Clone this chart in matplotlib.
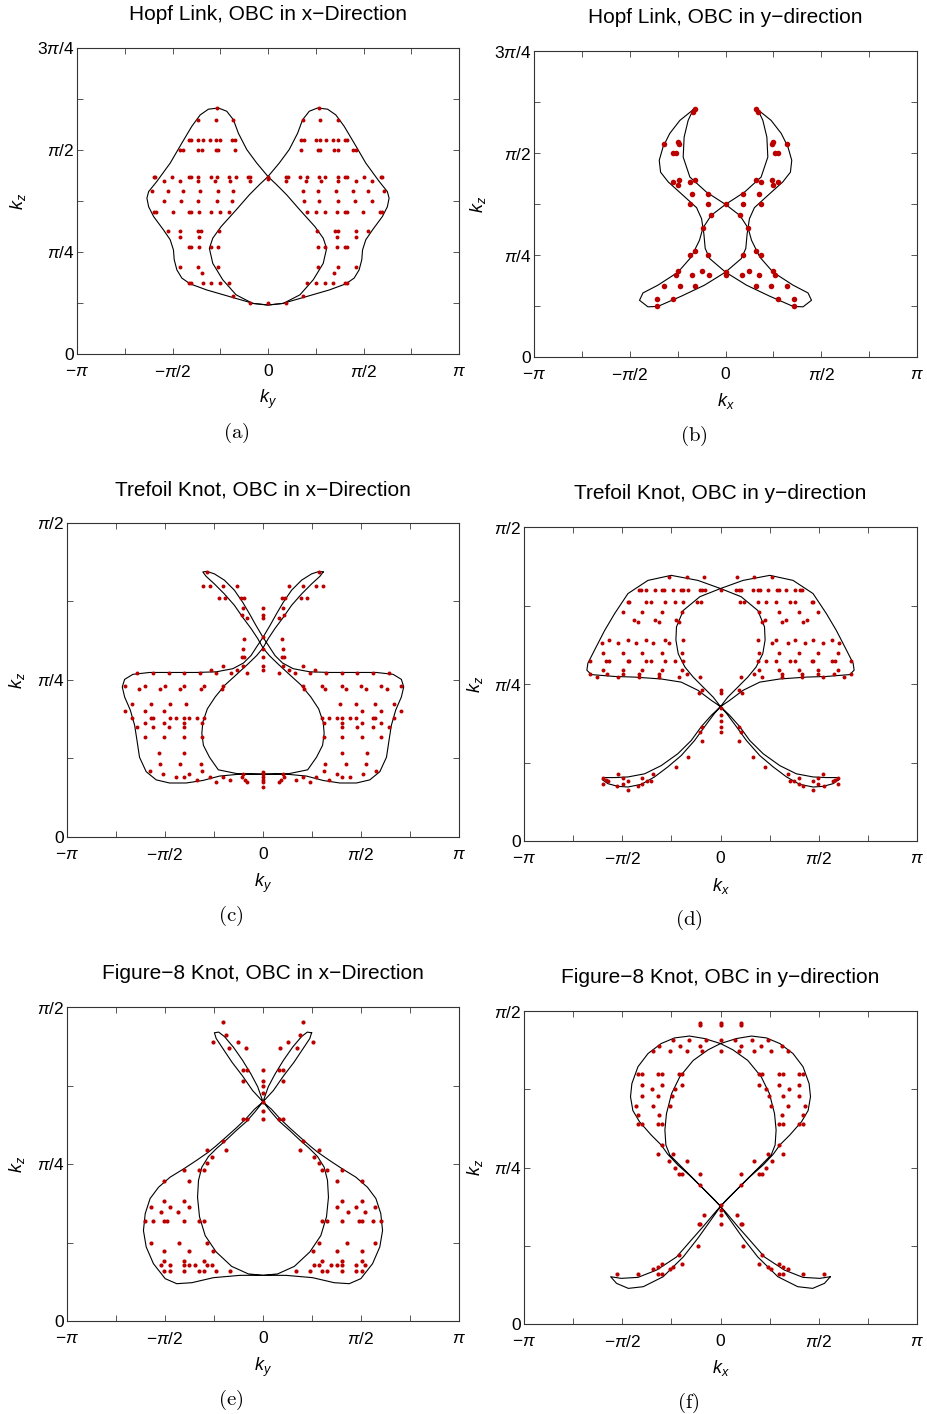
import numpy as np
import matplotlib.pyplot as plt

plt.rcParams['font.family'] = ['Liberation Sans', 'DejaVu Sans']
plt.rcParams['mathtext.fontset'] = 'custom'
plt.rcParams['mathtext.rm'] = 'Liberation Sans'
plt.rcParams['mathtext.it'] = 'Liberation Sans:italic'

# all coordinates below are in units of pi

# --- (a) Hopf link, OBC in x: one component, the other one is its mirror image
a_curve_x = [0, -0.059, -0.111, -0.155, -0.181, -0.216, -0.260, -0.312, -0.355, -0.399, -0.451, -0.512,
             -0.582, -0.625, -0.634, -0.625, -0.599, -0.547, -0.512, -0.495, -0.491, -0.477, -0.451, -0.408,
             -0.321, -0.181, -0.077, 0, 0.080, 0.167, 0.237, 0.289, 0.307, 0.289, 0.246, 0.167, 0.098, 0.045, 0]
a_curve_y = [0.435, 0.468, 0.501, 0.541, 0.574, 0.595, 0.603, 0.600, 0.586, 0.558, 0.517, 0.468,
             0.423, 0.398, 0.382, 0.361, 0.337, 0.304, 0.280, 0.255, 0.231, 0.206, 0.186, 0.172,
             0.157, 0.138, 0.124, 0.120, 0.124, 0.145, 0.182, 0.222, 0.259, 0.284, 0.312, 0.353, 0.390, 0.415, 0.435]
a_rows = [
    (0.603, [-0.265]),
    (0.573, [-0.364, -0.272, -0.185]),
    (0.525, [-0.416, -0.402, -0.364, -0.341, -0.303, -0.272, -0.251, -0.190, -0.172]),
    (0.500, [-0.460, -0.443, -0.364, -0.347, -0.272, -0.260, -0.172]),
    (0.435, [-0.599, -0.591, -0.503, -0.416, -0.402, -0.364, -0.300, -0.268, -0.202, -0.167, -0.103, -0.094]),
    (0.423, [-0.547, -0.460, -0.364, -0.277, -0.199, -0.094]),
    (0.400, [-0.608, -0.524, -0.446, -0.355, -0.260, -0.181]),
    (0.375, [-0.547, -0.455, -0.364, -0.268, -0.186]),
    (0.348, [-0.599, -0.587, -0.498, -0.416, -0.402, -0.359, -0.300, -0.251, -0.202]),
    (0.302, [-0.524, -0.460, -0.364, -0.350, -0.254]),
    (0.286, [-0.460, -0.361]),
    (0.262, [-0.416, -0.402, -0.359, -0.298, -0.260]),
    (0.213, [-0.460, -0.364, -0.260]),
    (0.198, [-0.347]),
    (0.173, [-0.416, -0.402, -0.338, -0.298, -0.251, -0.202]),
    (0.143, [-0.185]),
    (0.125, [-0.094]),
]
a_mid = [0.435, 0.430, 0.125]

# --- (b) Hopf link, OBC in y
b_curve_x = [-0.169, -0.238, -0.291, -0.326, -0.346, -0.339, -0.299, -0.221, -0.151, -0.125, -0.113, -0.106,
             -0.082, 0, 0.110, 0.231, 0.353, 0.405, 0.449, 0.431, 0.353, 0.248, 0.179, 0.136, 0.118, 0.075,
             0, -0.099, -0.186, -0.221, -0.216, -0.195, -0.169]
b_curve_y = [0.606, 0.580, 0.548, 0.515, 0.482, 0.453, 0.429, 0.396, 0.366, 0.339, 0.302, 0.266,
             0.241, 0.208, 0.176, 0.149, 0.124, 0.123, 0.139, 0.157, 0.176, 0.208, 0.245, 0.286, 0.316, 0.347,
             0.374, 0.404, 0.441, 0.490, 0.539, 0.580, 0.606]
b_dot_x = [-0.160, -0.172, -0.320, -0.250, -0.242, -0.273, -0.259, -0.273, -0.242, -0.250, -0.186, -0.160,
           -0.174, -0.090, -0.183, -0.090, -0.078, -0.120, -0.160, -0.183, -0.090, -0.250, -0.261, -0.174,
           -0.125, -0.085, -0.320, -0.238, -0.160, -0.360, -0.273, -0.360]
b_dot_y = [0.609, 0.601, 0.521, 0.527, 0.523, 0.500, 0.500, 0.429, 0.435, 0.422, 0.429, 0.435,
           0.400, 0.400, 0.376, 0.376, 0.349, 0.315, 0.261, 0.251, 0.249, 0.211, 0.200, 0.200,
           0.211, 0.200, 0.174, 0.174, 0.174, 0.143, 0.143, 0.126]
b_mid = [0.376, 0.208, 0.200]

# --- (c) trefoil, OBC in x: half of the closed path, the rest is its mirror
c_curve_x = [0.307, 0.290, 0.248, 0.197, 0.146, 0.104, 0.061, 0.027, 0, -0.032, -0.075, -0.134, -0.194,
             -0.244, -0.284, -0.307, -0.312, -0.304, -0.273, -0.228, -0.134, 0, 0.121, 0.222, 0.307, 0.392,
             0.477, 0.545, 0.596, 0.630, 0.643, 0.655, 0.677, 0.706, 0.718, 0.706, 0.664, 0.579, 0.460,
             0.341, 0.239, 0.154, 0.100, 0.061, 0.032, 0, -0.036, -0.070, -0.104, -0.146, -0.197, -0.248, -0.287]
c_curve_y = [0.422, 0.415, 0.403, 0.387, 0.369, 0.350, 0.332, 0.316, 0.301, 0.289, 0.276, 0.259, 0.242,
             0.223, 0.204, 0.183, 0.165, 0.146, 0.127, 0.107, 0.101, 0.100, 0.100, 0.097, 0.090, 0.086,
             0.086, 0.091, 0.104, 0.127, 0.154, 0.178, 0.202, 0.223, 0.239, 0.251, 0.259, 0.262, 0.262,
             0.262, 0.263, 0.268, 0.277, 0.289, 0.303, 0.318, 0.337, 0.356, 0.374, 0.393, 0.409, 0.419, 0.423]
c_rows = [
    (0.422, [-0.287]),
    (0.400, [-0.304, -0.270, -0.202, -0.134]),
    (0.381, [-0.222, -0.194, -0.114, -0.097]),
    (0.364, [-0.100]),
    (0.353, [-0.109]),
    (0.348, [-0.083]),
    (0.316, [-0.097]),
    (0.300, [-0.104]),
    (0.286, [-0.109, -0.097]),
    (0.273, [-0.100]),
    (0.272, [-0.202]),
    (0.266, [-0.267, -0.134]),
    (0.261, [-0.643, -0.559, -0.482, -0.401, -0.321, -0.241, -0.163, -0.080]),
    (0.240, [-0.703, -0.601, -0.499, -0.401, -0.301, -0.202]),
    (0.235, [-0.635, -0.525, -0.423, -0.316, -0.211]),
    (0.211, [-0.669, -0.572, -0.474, -0.394]),
    (0.201, [-0.703, -0.601, -0.504]),
    (0.190, [-0.666, -0.572, -0.559, -0.474, -0.445, -0.401, -0.380, -0.338, -0.301]),
    (0.182, [-0.601, -0.504, -0.401, -0.312]),
    (0.175, [-0.643, -0.562, -0.482, -0.401]),
    (0.160, [-0.601, -0.504, -0.401, -0.312]),
    (0.134, [-0.533, -0.401]),
    (0.117, [-0.525, -0.423, -0.316]),
    (0.105, [-0.576, -0.312]),
    (0.0998, [-0.508, -0.380, -0.104]),
    (0.0955, [-0.443, -0.401, -0.270, -0.202, -0.109]),
    (0.090, [-0.338, -0.168, -0.092]),
    (0.087, [-0.239, -0.083]),
]
c_mid = [0.364, 0.353, 0.348, 0.318, 0.300, 0.286, 0.273, 0.266, 0.1035, 0.0998, 0.0955, 0.091, 0.087, 0.080]

# --- (d) trefoil, OBC in y
d_curve_x = [0.602, 0.573, 0.522, 0.471, 0.403, 0.336, 0.268, 0.200, 0.132, 0.081, 0.031, 0, -0.037, -0.088,
             -0.139, -0.181, -0.215, -0.227, -0.224, -0.190, -0.105, 0, 0.115, 0.251, 0.369, 0.471, 0.539,
             0.590, 0.641, 0.675, 0.680, 0.658, 0.539, 0.437, 0.302, 0.200, 0.115, 0.047, 0, -0.047, -0.098,
             -0.149, -0.217, -0.302, -0.386, -0.471, -0.539, -0.590]
d_curve_y = [0.0977, 0.0913, 0.0870, 0.0860, 0.0902, 0.102, 0.118, 0.136, 0.160, 0.182, 0.203, 0.214, 0.229,
             0.245, 0.261, 0.277, 0.298, 0.320, 0.341, 0.367, 0.389, 0.402, 0.415, 0.423, 0.415, 0.394, 0.362,
             0.335, 0.304, 0.283, 0.272, 0.265, 0.262, 0.261, 0.258, 0.253, 0.240, 0.224, 0.214, 0.200, 0.182,
             0.160, 0.139, 0.120, 0.107, 0.102, 0.101, 0.101]
d_rows = [
    (0.421, [-0.261, -0.173, -0.085]),
    (0.400, [-0.415, -0.405, -0.381, -0.334, -0.297, -0.286, -0.244, -0.202, -0.190, -0.164, -0.102, -0.092, -0.080]),
    (0.381, [-0.473, -0.466, -0.380, -0.354, -0.283, -0.232, -0.190, -0.119, -0.097]),
    (0.364, [-0.498, -0.398, -0.297, -0.198]),
    (0.352, [-0.441, -0.331, -0.224]),
    (0.348, [-0.419, -0.314, -0.212]),
    (0.320, [-0.568, -0.473, -0.380, -0.283, -0.190]),
    (0.316, [-0.605, -0.520, -0.432, -0.346, -0.261]),
    (0.300, [-0.597, -0.498, -0.398, -0.297, -0.198]),
    (0.286, [-0.664, -0.585, -0.568, -0.473, -0.466, -0.380, -0.354, -0.283, -0.232, -0.190]),
    (0.273, [-0.597, -0.498, -0.398, -0.297, -0.198]),
    (0.266, [-0.664, -0.580, -0.498, -0.415, -0.314, -0.168]),
    (0.261, [-0.631, -0.524, -0.415, -0.314, -0.212, -0.102]),
    (0.240, [-0.093]),
    (0.236, [-0.110]),
    (0.182, [-0.093]),
    (0.174, [-0.102]),
    (0.160, [-0.093]),
    (0.134, [-0.164]),
    (0.118, [-0.224]),
    (0.106, [-0.520, -0.346]),
    (0.100, [-0.600, -0.498, -0.398]),
    (0.0966, [-0.583]),
    (0.0955, [-0.571, -0.473, -0.376, -0.354]),
    (0.0913, [-0.600, -0.498, -0.398]),
    (0.0870, [-0.525, -0.419]),
    (0.0817, [-0.473]),
]
d_mid = [0.400, 0.241, 0.236, 0.211, 0.200, 0.191, 0.182, 0.174]

# --- (e) figure-8, OBC in x
e_curve_x = [0.248, 0.239, 0.205, 0.158, 0.104, 0.053, 0, -0.041, -0.083, -0.134, -0.185, -0.236, -0.278,
             -0.312, -0.329, -0.334, -0.324, -0.295, -0.239, -0.160, -0.075, 0, 0.117, 0.253, 0.363, 0.440,
             0.499, 0.559, 0.596, 0.610, 0.601, 0.576, 0.533, 0.474, 0.401, 0.338, 0.278, 0.239, 0.188,
             0.138, 0.087, 0.044, 0, -0.027, -0.061, -0.104, -0.151, -0.197, -0.226]
e_curve_y = [0.459, 0.450, 0.434, 0.412, 0.390, 0.367, 0.349, 0.333, 0.318, 0.304, 0.289, 0.275, 0.262,
             0.245, 0.224, 0.197, 0.166, 0.136, 0.110, 0.087, 0.075, 0.0727, 0.0727, 0.069, 0.061, 0.0594,
             0.0674, 0.0913, 0.118, 0.144, 0.171, 0.195, 0.213, 0.229, 0.243, 0.256, 0.269, 0.279, 0.293,
             0.307, 0.322, 0.337, 0.349, 0.373, 0.393, 0.415, 0.436, 0.453, 0.460]
e_rows = [
    (0.476, [-0.202]),
    (0.455, [-0.190]),
    (0.444, [-0.253, -0.126]),
    (0.435, [-0.173, -0.088]),
    (0.400, [-0.100, -0.080]),
    (0.382, [-0.100]),
    (0.321, [-0.100, -0.080]),
    (0.287, [-0.202]),
    (0.273, [-0.287, -0.188]),
    (0.261, [-0.261]),
    (0.251, [-0.287]),
    (0.240, [-0.401, -0.324, -0.301]),
    (0.223, [-0.503, -0.377]),
    (0.191, [-0.503, -0.401]),
    (0.182, [-0.572, -0.474, -0.380]),
    (0.174, [-0.521, -0.436]),
    (0.160, [-0.601, -0.562, -0.503, -0.491, -0.401, -0.324, -0.301]),
    (0.125, [-0.572, -0.428, -0.287]),
    (0.111, [-0.503, -0.377, -0.253]),
    (0.0955, [-0.503, -0.401, -0.301]),
    (0.0886, [-0.521, -0.474, -0.401, -0.377, -0.346, -0.287, -0.261]),
    (0.0796, [-0.503, -0.477, -0.401, -0.324, -0.301, -0.239, -0.168]),
]
e_mid = [0.400, 0.382, 0.375, 0.363, 0.349, 0.334, 0.321]

# --- (f) figure-8, OBC in y
f_curve_x = [0.559, 0.529, 0.469, 0.393, 0.292, 0.190, 0.115, 0.056, 0.022, 0, -0.029, -0.071, -0.131,
             -0.198, -0.258, -0.278, -0.283, -0.275, -0.249, -0.207, -0.139, -0.063, 0, 0.081, 0.158, 0.234,
             0.302, 0.369, 0.420, 0.451, 0.458, 0.446, 0.412, 0.353, 0.302, 0.268, 0.217, 0.149, 0.081,
             0.031, 0, -0.031, -0.090, -0.149, -0.224, -0.325, -0.420, -0.505]
f_curve_y = [0.0755, 0.0649, 0.0569, 0.0596, 0.0755, 0.107, 0.137, 0.163, 0.178, 0.188, 0.198, 0.211, 0.230,
             0.251, 0.270, 0.286, 0.310, 0.336, 0.368, 0.395, 0.421, 0.438, 0.448, 0.456, 0.460, 0.457,
             0.448, 0.432, 0.411, 0.384, 0.363, 0.341, 0.323, 0.302, 0.286, 0.271, 0.254, 0.235, 0.214,
             0.198, 0.188, 0.177, 0.155, 0.134, 0.107, 0.0862, 0.0745, 0.0729]
f_rows = [
    (0.481, [-0.105]),
    (0.477, [-0.102]),
    (0.454, [-0.241, -0.159, -0.076]),
    (0.444, [-0.312, -0.207, -0.105]),
    (0.436, [-0.346, -0.258, -0.173, -0.092]),
    (0.400, [-0.419, -0.402, -0.317, -0.300, -0.210, -0.198]),
    (0.381, [-0.397, -0.300, -0.198]),
    (0.375, [-0.351, -0.232]),
    (0.364, [-0.397, -0.317, -0.246]),
    (0.348, [-0.432, -0.346, -0.258]),
    (0.334, [-0.419, -0.314]),
    (0.320, [-0.419, -0.402, -0.317, -0.300]),
    (0.286, [-0.300]),
    (0.272, [-0.317, -0.241]),
    (0.261, [-0.261, -0.173]),
    (0.250, [-0.232]),
    (0.240, [-0.210, -0.198, -0.102]),
    (0.222, [-0.105]),
    (0.174, [-0.085]),
    (0.160, [-0.102, -0.108]),
    (0.124, [-0.117]),
    (0.110, [-0.210]),
    (0.0952, [-0.300, -0.198]),
    (0.0904, [-0.317, -0.241]),
    (0.0872, [-0.346, -0.258]),
    (0.0798, [-0.300, -0.317, -0.419, -0.525]),
]
f_mid = [0.481, 0.477, 0.454, 0.436, 0.190, 0.182, 0.174, 0.160]

titles = ['Hopf Link, OBC in x\u2212Direction', 'Hopf Link, OBC in y\u2212direction',
          'Trefoil Knot, OBC in x\u2212Direction', 'Trefoil Knot, OBC in y\u2212direction',
          'Figure\u22128 Knot, OBC in x\u2212Direction', 'Figure\u22128 Knot, OBC in y\u2212direction']
xlabels = [r'$k_y$', r'$k_x$'] * 3
tags = ['(a)', '(b)', '(c)', '(d)', '(e)', '(f)']

# axes boxes in pixels: left, top, right, bottom
boxes = [(77, 48, 459, 354), (534, 51, 917, 357),
         (67, 523, 459, 837), (524, 527, 917, 841),
         (67, 1007, 459, 1321), (524, 1011, 917, 1324)]
# where the right edge of the k_z label sits, in pixels left of the axes
ylab_gap = [49, 46, 40, 39, 40, 39]

W, H = 927, 1414


def dots_from_rows(rows, mid):
    xs, ys = [], []
    for y, row in rows:
        for x in row:
            xs += [x, -x]
            ys += [y, y]
    xs += [0] * len(mid)
    ys += list(mid)
    return np.pi * np.array(xs), np.pi * np.array(ys)


def knot(px, py):
    px, py = np.array(px), np.array(py)
    return np.pi * np.r_[px, -px, px[:1]], np.pi * np.r_[py, py, py[:1]]


fig = plt.figure(figsize=(W / 100, H / 100), dpi=100)

bx, by = np.array(b_dot_x), np.array(b_dot_y)
curves = [
    [(np.pi * np.array(a_curve_x), np.pi * np.array(a_curve_y)),
     (-np.pi * np.array(a_curve_x), np.pi * np.array(a_curve_y))],
    [(np.pi * np.array(b_curve_x), np.pi * np.array(b_curve_y)),
     (-np.pi * np.array(b_curve_x), np.pi * np.array(b_curve_y))],
    [knot(c_curve_x, c_curve_y)],
    [knot(d_curve_x, d_curve_y)],
    [knot(e_curve_x, e_curve_y)],
    [knot(f_curve_x, f_curve_y)],
]
dots = [
    dots_from_rows(a_rows, a_mid),
    (np.pi * np.r_[bx, -bx, np.zeros(len(b_mid))], np.pi * np.r_[by, by, b_mid]),
    dots_from_rows(c_rows, c_mid),
    dots_from_rows(d_rows, d_mid),
    dots_from_rows(e_rows, e_mid),
    dots_from_rows(f_rows, f_mid),
]
dot_size = [8, 16, 8, 8, 9, 9]

for i in range(6):
    l, t, r, b = boxes[i]
    ax = fig.add_axes([l / W, 1 - b / H, (r - l) / W, (b - t) / H])
    for cx, cy in curves[i]:
        ax.plot(cx, cy, color='black', lw=0.8)
    ax.scatter(dots[i][0], dots[i][1], s=dot_size[i], color='#bb0000', lw=0, zorder=3)

    ax.set_xlim(-np.pi, np.pi)
    ax.set_xticks(np.arange(-4, 5) * np.pi / 4)
    ax.set_xticklabels([r'$-\pi$', '', r'$-\pi/2$', '', '0', '', r'$\pi/2$', '', r'$\pi$'])
    if i < 2:
        ax.set_ylim(0, 3 * np.pi / 4)
        ax.set_yticks(np.arange(0, 7) * np.pi / 8)
        ax.set_yticklabels(['0', '', r'$\pi/4$', '', r'$\pi/2$', '', r'$3\pi/4$'])
    else:
        ax.set_ylim(0, np.pi / 2)
        ax.set_yticks(np.arange(0, 5) * np.pi / 8)
        ax.set_yticklabels(['0', '', r'$\pi/4$', '', r'$\pi/2$'])
    ax.tick_params(direction='in', top=True, right=True, length=4, width=0.7,
                   labelsize=12.5, color='#555555')
    ax.tick_params(axis='x', pad=7)
    ax.tick_params(axis='y', pad=2)
    for s in ax.spines.values():
        s.set_linewidth(0.8)
        s.set_color('#333333')

    ax.set_title(titles[i], fontsize=15, pad=20)
    ax.set_xlabel(xlabels[i], fontsize=13)
    ax.set_ylabel(r'$k_z$', fontsize=13)
    ax.xaxis.set_label_coords(0.5, -0.11)
    ax.yaxis.set_label_coords(-ylab_gap[i] / (r - l), 0.5)

    fig.text(((l + r) / 2 - 32) / W, 1 - (b + 79) / H, r'$\mathrm{' + tags[i] + '}$', fontsize=15,
             ha='center', va='center', math_fontfamily='cm')

fig.savefig('out.png', dpi=100)
